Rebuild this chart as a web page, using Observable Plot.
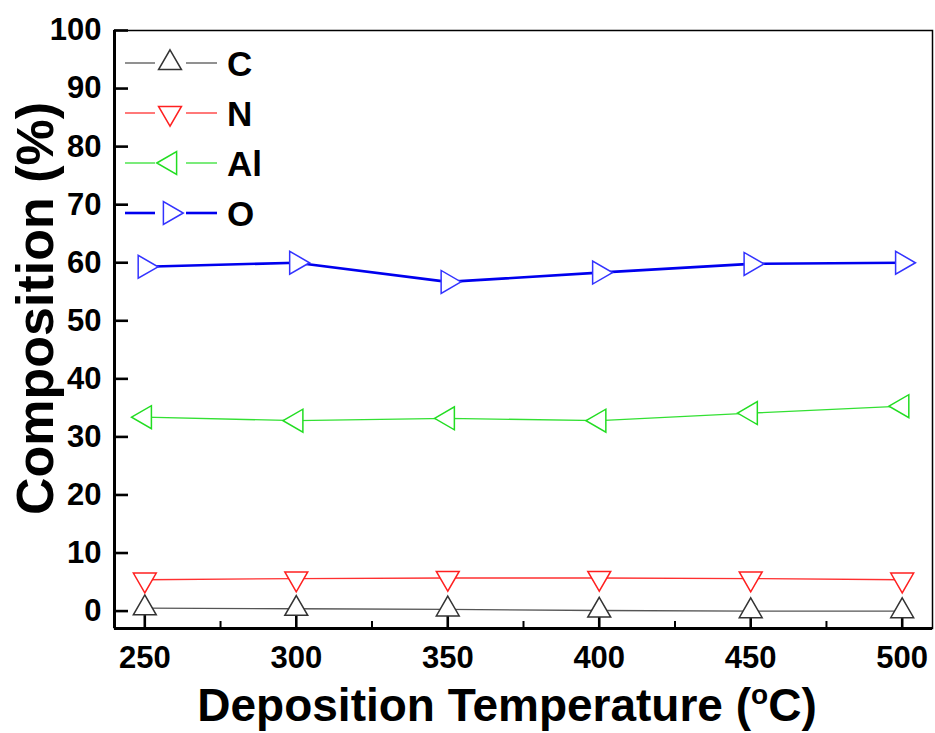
<!DOCTYPE html>
<html><head><meta charset="utf-8">
<script src="https://cdn.jsdelivr.net/npm/d3@7"></script>
<script src="https://cdn.jsdelivr.net/npm/@observablehq/plot@0.6"></script>
<style>body{margin:0;background:#fff}#chart{position:relative;width:935px;height:733px}</style>
</head><body><div id="chart"></div>
<script>
const temperatures = [250, 300, 350, 400, 450, 500];
const carbon   = [0.5, 0.4, 0.3, 0.1, 0.0, 0.0];
const nitrogen = [5.4, 5.6, 5.7, 5.7, 5.6, 5.4];
const aluminum = [33.4, 32.8, 33.2, 32.8, 34.1, 35.3];
const oxygen   = [59.3, 60.0, 56.7, 58.3, 59.8, 60.0];
const seriesNames = ["C", "N", "Al", "O"];
const xTicks = [250, 300, 350, 400, 450, 500];
const xMinorTicks = [275, 325, 375, 425, 475];
const yTicks = [0, 10, 20, 30, 40, 50, 60, 70, 80, 90, 100];
const xDomain = [240, 510];
const yDomain = [-3, 100];
const yTitle = "Composition (%)";
const xTitleMain = "Deposition Temperature (";
const xTitleSup = "o";
const xTitleEnd = "C)";

const seriesValues = [carbon, nitrogen, aluminum, oxygen];
const styles = {
  C:  {stroke: "#333333", line: "#555555", rotate: 0,   width: 1.3},
  N:  {stroke: "#ff2020", line: "#ff3030", rotate: 180, width: 1.3},
  Al: {stroke: "#22dd22", line: "#33e033", rotate: -90, width: 1.3},
  O:  {stroke: "#3333ff", line: "#0000ee", rotate: 90,  width: 2.6}
};
const rows = seriesNames.flatMap((s, i) => temperatures.map((t, j) => ({series: s, t, v: seriesValues[i][j]})));

const marks = [
  Plot.frame({stroke: "#000", strokeWidth: 1.5}),
  Plot.axisY(yTicks, {anchor: "left", tickSize: -14, tickPadding: 27, fontSize: 31, fontWeight: "bold", strokeWidth: 2.6, label: null}),
  Plot.axisX(xTicks, {anchor: "bottom", tickSize: -13, tickPadding: 30, fontSize: 31, fontWeight: "bold", strokeWidth: 2.6, label: null}),
  Plot.axisX(xMinorTicks, {anchor: "bottom", tickSize: -7, tickFormat: () => "", strokeWidth: 2, label: null}),
  Plot.ruleX([xDomain[0]], {stroke: "#000", strokeWidth: 3}),
  Plot.ruleY([yDomain[0]], {stroke: "#000", strokeWidth: 3}),
  Plot.text([yTitle], {frameAnchor: "left", textAnchor: "middle", lineAnchor: "middle", dx: -78, dy: -21, rotate: -90, fontSize: 52, fontWeight: "bold", fill: "#000"})
];
for (const s of seriesNames) {
  const st = styles[s];
  const data = rows.filter(d => d.series === s);
  marks.push(Plot.line(data, {x: "t", y: "v", stroke: st.line, strokeWidth: st.width}));
  marks.push(Plot.dot(data, {x: "t", y: "v", symbol: "triangle", r: 8.5, rotate: st.rotate, stroke: st.stroke, fill: "white", strokeWidth: 1.5}));
}

const chart = Plot.plot({
  width: 935, height: 733,
  marginLeft: 114, marginRight: 3, marginTop: 30, marginBottom: 105,
  x: {domain: xDomain},
  y: {domain: yDomain},
  style: {fontFamily: "'Liberation Sans', Arial, sans-serif", color: "#000", background: "#fff"},
  marks
});
document.getElementById("chart").appendChild(chart);

const svg = d3.select(chart);
// x-axis title with superscript
const xt = svg.append("text")
  .attr("x", 507).attr("y", 721)
  .attr("text-anchor", "middle")
  .attr("font-size", 46).attr("font-weight", "bold")
  .attr("font-family", "'Liberation Sans', Arial, sans-serif")
  .attr("fill", "#000");
xt.append("tspan").text(xTitleMain);
xt.append("tspan").attr("dy", -17).attr("font-size", 28).text(xTitleSup);
xt.append("tspan").attr("dy", 17).text(xTitleEnd);

// legend
const lg = svg.append("g");
seriesNames.forEach((s, i) => {
  const st = styles[s];
  const y = 63 + 50 * i;
  for (const [a, b] of [[125, 155], [186, 217]]) {
    lg.append("line").attr("x1", a).attr("x2", b).attr("y1", y).attr("y2", y)
      .attr("stroke", st.line).attr("stroke-width", st.width);
  }
  lg.append("path").attr("d", d3.symbol(d3.symbolTriangle, Math.PI * 8.5 * 8.5)())
    .attr("transform", `translate(170,${y}) rotate(${st.rotate})`)
    .attr("fill", "white").attr("stroke", st.stroke).attr("stroke-width", 1.5);
  lg.append("text").attr("x", 227).attr("y", y).attr("dy", "0.36em")
    .attr("text-anchor", "start")
    .attr("font-size", 35).attr("font-weight", "bold")
    .attr("font-family", "'Liberation Sans', Arial, sans-serif")
    .attr("fill", "#000").text(s);
});
</script></body></html>
